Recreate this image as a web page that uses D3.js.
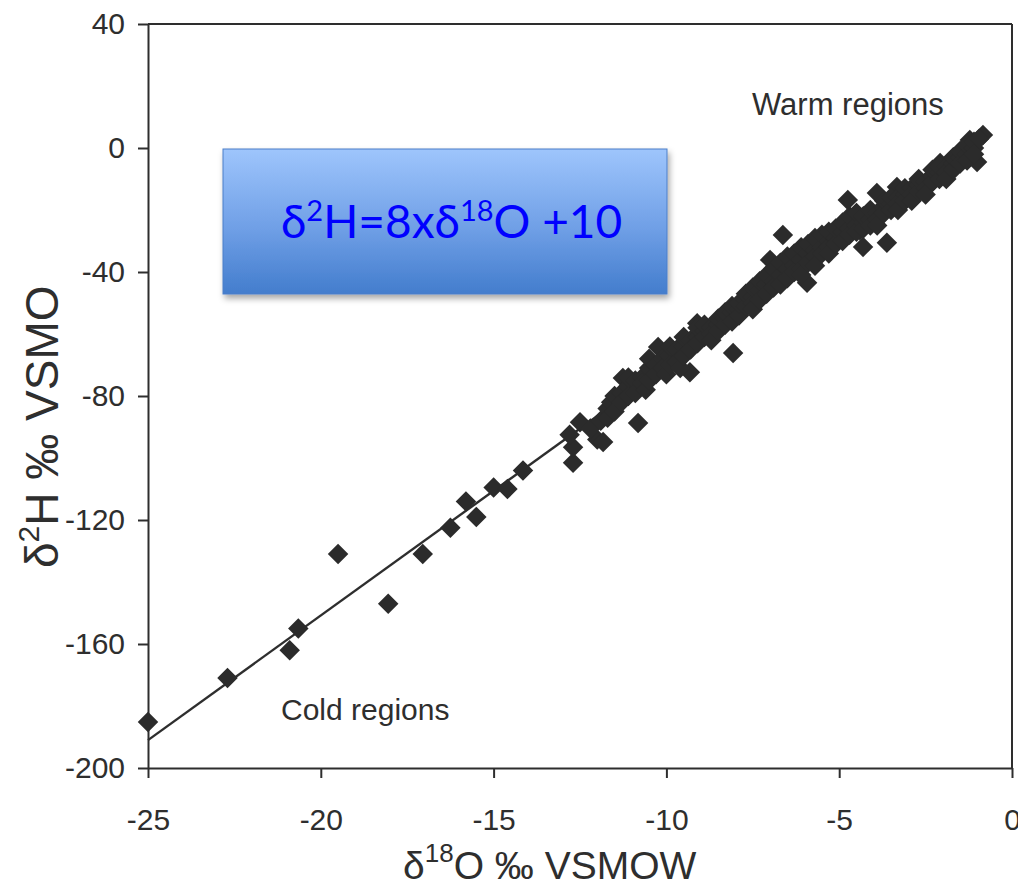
<!DOCTYPE html>
<html>
<head>
<meta charset="utf-8">
<script src="https://cdn.jsdelivr.net/npm/d3@7"></script>
<style>
  html, body { margin: 0; padding: 0; background: #fff; }
  svg { display: block; }
</style>
</head>
<body>
<svg id="chart" width="1018" height="890"></svg>
<script>
// ---- data ----
const xTicks = [-25, -20, -15, -10, -5, 0];
const yTicks = [40, 0, -40, -80, -120, -160, -200];
const xDomain = [-25, 0];
const yDomain = [-200, 40];

// meteoric water line endpoints (δ2H ≈ 8 x δ18O + 10)
const lineD18O = [-25, -1];
const lineD2H = [-191, 2];

// samples [δ18O, δ2H]
const isolatedSamples = [
  [-25.0,-185.2],[-22.7,-171],[-20.9,-162],[-20.65,-155],[-19.5,-131],[-18.05,-147],
  [-17.05,-131],[-16.25,-122.5],[-15.8,-114],[-15.5,-119],[-15.0,-109.5],[-14.6,-110],
  [-14.15,-104],[-12.7,-101.5],[-12.7,-96.5],[-12.8,-92.5],[-12.5,-88.5],[-12.0,-94],[-12.2,-90.5]
];
const clusterOutliers = [
  [-11.83,-94.8],[-11.26,-74.2],[-10.24,-64.2],[-9.11,-56.5],[-8.07,-66.1],[-9.32,-72.3],
  [-10.82,-88.7],[-6.63,-28.1],[-4.75,-16.8],[-3.62,-30.6],[-5.93,-43.5],[-0.84,4.2],
  [-1.22,2.6],[-1.01,-4.5],[-2.08,-4.8],[-3.33,-12.6],[-3.91,-14.5],[-7.0,-36.1],
  [-4.31,-31.9],[-4.4,-26.5]
];
const bandSamples = [
  [-11.9,-88],[-11.7,-84],[-11.7,-87],[-11.6,-82],[-11.5,-80],[-11.5,-85],[-11.3,-79],[-11.3,-82],
  [-11.1,-77],[-11.1,-80],[-11.1,-74],[-10.9,-75],[-10.9,-79],[-10.7,-74],[-10.7,-76],[-10.6,-78],
  [-10.5,-71],[-10.5,-75],[-10.5,-68],[-10.3,-70],[-10.3,-73],[-10.1,-68],[-10.1,-71],[-10.0,-73],
  [-9.9,-67],[-9.9,-70],[-9.9,-64],[-9.7,-65],[-9.7,-69],[-9.6,-71],[-9.5,-64],[-9.5,-67],[-9.5,-61],
  [-9.3,-62],[-9.3,-65],[-9.1,-61],[-9.1,-63],[-9.1,-58],[-8.9,-59],[-8.9,-61],[-8.9,-57],
  [-8.7,-58],[-8.7,-60],[-8.7,-62],[-8.5,-57],[-8.5,-59],[-8.5,-55],[-8.3,-55],[-8.3,-57],[-8.3,-53],
  [-8.1,-53],[-8.1,-56],[-8.1,-51],[-7.9,-52],[-7.9,-54],[-7.9,-50],[-7.7,-49],[-7.7,-51],[-7.7,-47],
  [-7.5,-48],[-7.5,-50],[-7.5,-45],[-7.5,-52],[-7.3,-46],[-7.3,-49],[-7.3,-43],[-7.1,-44],[-7.1,-47],[-7.1,-41],
  [-6.9,-43],[-6.9,-45],[-6.9,-39],[-6.7,-41],[-6.7,-44],[-6.7,-37],[-6.5,-39],[-6.5,-42],[-6.5,-35],
  [-6.3,-38],[-6.3,-40],[-6.3,-34],[-6.1,-36],[-6.1,-39],[-6.1,-32],[-6.1,-41],[-5.9,-34],[-5.9,-37],[-5.9,-31],
  [-5.7,-33],[-5.7,-35],[-5.7,-29],[-5.7,-38],[-5.5,-32],[-5.5,-34],[-5.5,-28],[-5.3,-30],[-5.3,-32],[-5.3,-27],[-5.3,-34],
  [-5.1,-29],[-5.1,-31],[-5.1,-26],[-4.9,-27],[-4.9,-30],[-4.9,-24],[-4.7,-26],[-4.7,-28],[-4.7,-22],
  [-4.5,-25],[-4.5,-27],[-4.5,-21],[-4.3,-24],[-4.3,-26],[-4.3,-22],[-4.1,-23],[-4.1,-25],[-4.1,-20],
  [-3.9,-21],[-3.9,-23],[-3.9,-25],[-3.7,-19],[-3.7,-21],[-3.7,-17],[-3.5,-18],[-3.5,-20],[-3.5,-16],
  [-3.3,-16],[-3.3,-18],[-3.3,-20],[-3.1,-15],[-3.1,-17],[-3.1,-13],[-2.9,-13],[-2.9,-15],[-2.9,-17],
  [-2.7,-12],[-2.7,-14],[-2.7,-10],[-2.5,-11],[-2.5,-13],[-2.5,-15],
  [-2.3,-9],[-2.3,-11],[-2.3,-7],[-2.1,-8],[-2.1,-10],[-2.1,-6],[-1.9,-6],[-1.9,-8],[-1.9,-10],
  [-1.7,-5],[-1.7,-7],[-1.7,-3],[-1.5,-3],[-1.5,-1],[-1.5,-5],[-1.3,-2],[-1.3,1],[-1.3,-4],
  [-1.1,0],[-1.1,2],[-1.1,-2],[-0.95,3]
];

const xTitle = ["δ", "18", "O ‰ VSMOW"];
const yTitle = ["δ", "2", "H ‰ VSMO"];
const equation = ["δ", "2", "H=8xδ", "18", "O +10"];
const warmLabel = "Warm regions";
const coldLabel = "Cold regions";

// ---- layout ----
const svg = d3.select("#chart");
const margin = { left: 148, top: 24, right: 1012, bottom: 768 };
const x = d3.scaleLinear().domain(xDomain).range([margin.left, margin.right]);
const y = d3.scaleLinear().domain(yDomain).range([margin.bottom, margin.top]);
const ink = "#2e2e2e";
const axisFont = "'Liberation Sans', Arial, sans-serif";

const defs = svg.append("defs");
const grad = defs.append("linearGradient").attr("id", "boxGrad")
  .attr("x1", 0).attr("y1", 0).attr("x2", 0).attr("y2", 1);
grad.append("stop").attr("offset", "0%").attr("stop-color", "#9ec5fc");
grad.append("stop").attr("offset", "55%").attr("stop-color", "#6f9fe6");
grad.append("stop").attr("offset", "100%").attr("stop-color", "#437dcd");
const filt = defs.append("filter").attr("id", "shadow")
  .attr("x", "-10%").attr("y", "-10%").attr("width", "130%").attr("height", "140%");
filt.append("feDropShadow").attr("dx", 2).attr("dy", 4).attr("stdDeviation", 3)
  .attr("flood-color", "#000").attr("flood-opacity", 0.35);

// frame: top and right
svg.append("line").attr("x1", x(xDomain[0])).attr("x2", x(xDomain[1]))
  .attr("y1", y(yDomain[1])).attr("y2", y(yDomain[1]))
  .attr("stroke", ink).attr("stroke-width", 2);
svg.append("line").attr("x1", x(xDomain[1])).attr("x2", x(xDomain[1]))
  .attr("y1", y(yDomain[1])).attr("y2", y(yDomain[0]))
  .attr("stroke", ink).attr("stroke-width", 2);

// axes
const gx = svg.append("g").attr("transform", `translate(0,${y(yDomain[0])})`)
  .call(d3.axisBottom(x).tickValues(xTicks).tickSizeInner(10).tickSizeOuter(0)
    .tickPadding(31).tickFormat(d3.format("d")));
const gy = svg.append("g").attr("transform", `translate(${x(xDomain[0])},0)`)
  .call(d3.axisLeft(y).tickValues(yTicks).tickSizeInner(10).tickSizeOuter(0)
    .tickPadding(13).tickFormat(d3.format("d")));
[gx, gy].forEach(g => {
  g.selectAll("path, line").attr("stroke", ink).attr("stroke-width", 2);
  g.selectAll("text").attr("fill", ink).style("font-family", axisFont)
    .style("font-size", "30px");
});
gx.selectAll("text").text(d => d3.format("d")(d).replace("−", "-"));
gy.selectAll("text").text(d => d3.format("d")(d).replace("−", "-"));

// meteoric water line
svg.append("line")
  .attr("x1", x(lineD18O[0])).attr("y1", y(lineD2H[0]))
  .attr("x2", x(lineD18O[1])).attr("y2", y(lineD2H[1]))
  .attr("stroke", ink).attr("stroke-width", 2.4);

// markers
const allSamples = isolatedSamples.concat(clusterOutliers, bandSamples);
const diamond = d3.symbol().type(d3.symbolSquare).size(210);
svg.append("g").selectAll("path").data(allSamples).join("path")
  .attr("d", diamond)
  .attr("transform", d => `translate(${x(d[0])},${y(d[1])}) rotate(45)`)
  .attr("fill", "#2b2b2b");

// region labels
svg.append("text").attr("x", 752).attr("y", 115).text(warmLabel)
  .attr("fill", ink).style("font-family", axisFont).style("font-size", "31px");
svg.append("text").attr("x", 281).attr("y", 720).text(coldLabel)
  .attr("fill", ink).style("font-family", axisFont).style("font-size", "30px");

// equation box
svg.append("rect").attr("x", 223).attr("y", 149).attr("width", 444).attr("height", 145)
  .attr("fill", "url(#boxGrad)").attr("stroke", "#4a7fc8").attr("stroke-width", 1)
  .attr("filter", "url(#shadow)");
const eq = svg.append("text").attr("x", 281).attr("y", 238)
  .attr("fill", "#0000ff").style("font-family", "Lato, 'Open Sans', sans-serif")
  .style("font-size", "46px");
equation.forEach((s, i) => {
  const t = eq.append("tspan").text(s);
  if (i % 2 === 1) t.attr("dy", -17).style("font-size", "29px");
  else if (i > 0) t.attr("dy", 17);
});

// x title
const xt = svg.append("text").attr("x", 403).attr("y", 879).attr("fill", ink)
  .style("font-family", axisFont).style("font-size", "39px");
xTitle.forEach((s, i) => {
  const t = xt.append("tspan").text(s);
  if (i === 1) t.attr("dy", -17).style("font-size", "26px");
  else if (i === 2) t.attr("dy", 17);
});

// y title
const yt = svg.append("text").attr("transform", "translate(58,568) rotate(-90)")
  .attr("fill", ink).style("font-family", axisFont).style("font-size", "46px");
yTitle.forEach((s, i) => {
  const t = yt.append("tspan").text(s);
  if (i === 1) t.attr("dy", -19).style("font-size", "30px");
  else if (i === 2) t.attr("dy", 19);
});
</script>
</body>
</html>
